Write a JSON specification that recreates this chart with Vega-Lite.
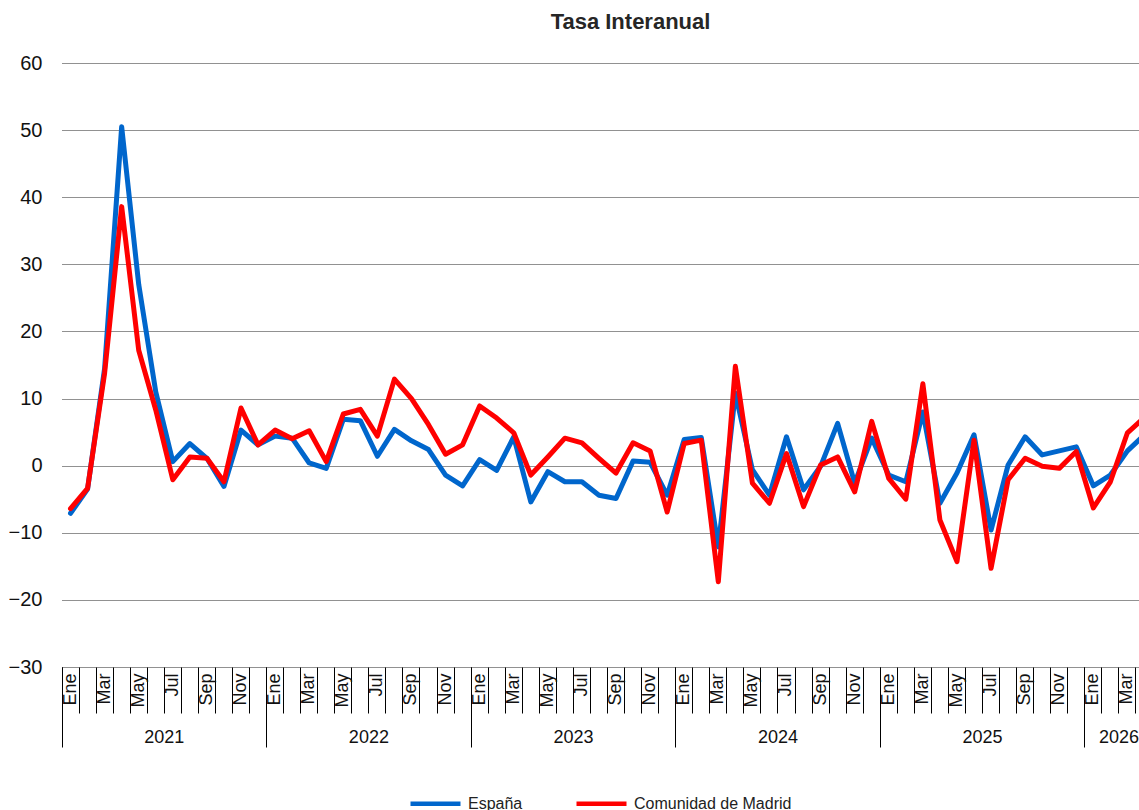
{
  "$schema": "https://vega.github.io/schema/vega-lite/v6.json",
  "width": 1091,
  "height": 604,
  "padding": {"left": 5, "top": 11, "right": 0, "bottom": 0},
  "autosize": {"type": "pad"},
  "background": "white",
  "title": {"text": "Tasa Interanual", "font": "Liberation Sans", "fontSize": 22, "fontWeight": "bold", "color": "#262626", "dx": 23, "offset": 19},
  "config": {"view": {"stroke": null}},
  "data": {"values": [
    {"mes": "2021-01", "España": -7.1, "Comunidad de Madrid": -6.4},
    {"mes": "2021-02", "España": -3.5, "Comunidad de Madrid": -3.4},
    {"mes": "2021-03", "España": 14.5, "Comunidad de Madrid": 13.8},
    {"mes": "2021-04", "España": 50.5, "Comunidad de Madrid": 38.6},
    {"mes": "2021-05", "España": 27.0, "Comunidad de Madrid": 17.2},
    {"mes": "2021-06", "España": 11.0, "Comunidad de Madrid": 8.3},
    {"mes": "2021-07", "España": 0.6, "Comunidad de Madrid": -2.1},
    {"mes": "2021-08", "España": 3.3, "Comunidad de Madrid": 1.3},
    {"mes": "2021-09", "España": 1.1, "Comunidad de Madrid": 1.1},
    {"mes": "2021-10", "España": -3.1, "Comunidad de Madrid": -2.4},
    {"mes": "2021-11", "España": 5.3, "Comunidad de Madrid": 8.6},
    {"mes": "2021-12", "España": 3.1, "Comunidad de Madrid": 3.1},
    {"mes": "2022-01", "España": 4.4, "Comunidad de Madrid": 5.3},
    {"mes": "2022-02", "España": 4.1, "Comunidad de Madrid": 4.0},
    {"mes": "2022-03", "España": 0.4, "Comunidad de Madrid": 5.2},
    {"mes": "2022-04", "España": -0.4, "Comunidad de Madrid": 0.6},
    {"mes": "2022-05", "España": 6.9, "Comunidad de Madrid": 7.7},
    {"mes": "2022-06", "España": 6.7, "Comunidad de Madrid": 8.4},
    {"mes": "2022-07", "España": 1.4, "Comunidad de Madrid": 4.4},
    {"mes": "2022-08", "España": 5.4, "Comunidad de Madrid": 12.9},
    {"mes": "2022-09", "España": 3.7, "Comunidad de Madrid": 10.0},
    {"mes": "2022-10", "España": 2.4, "Comunidad de Madrid": 6.1},
    {"mes": "2022-11", "España": -1.4, "Comunidad de Madrid": 1.7},
    {"mes": "2022-12", "España": -3.0, "Comunidad de Madrid": 3.1},
    {"mes": "2023-01", "España": 0.9, "Comunidad de Madrid": 8.9},
    {"mes": "2023-02", "España": -0.7, "Comunidad de Madrid": 7.1},
    {"mes": "2023-03", "España": 4.3, "Comunidad de Madrid": 4.9},
    {"mes": "2023-04", "España": -5.4, "Comunidad de Madrid": -1.4},
    {"mes": "2023-05", "España": -0.9, "Comunidad de Madrid": 1.3},
    {"mes": "2023-06", "España": -2.4, "Comunidad de Madrid": 4.1},
    {"mes": "2023-07", "España": -2.4, "Comunidad de Madrid": 3.4},
    {"mes": "2023-08", "España": -4.4, "Comunidad de Madrid": 1.1},
    {"mes": "2023-09", "España": -4.9, "Comunidad de Madrid": -1.1},
    {"mes": "2023-10", "España": 0.7, "Comunidad de Madrid": 3.4},
    {"mes": "2023-11", "España": 0.5, "Comunidad de Madrid": 2.2},
    {"mes": "2023-12", "España": -4.4, "Comunidad de Madrid": -6.9},
    {"mes": "2024-01", "España": 3.9, "Comunidad de Madrid": 3.3},
    {"mes": "2024-02", "España": 4.2, "Comunidad de Madrid": 3.8},
    {"mes": "2024-03", "España": -12.1, "Comunidad de Madrid": -17.3},
    {"mes": "2024-04", "España": 10.8, "Comunidad de Madrid": 14.8},
    {"mes": "2024-05", "España": -0.6, "Comunidad de Madrid": -2.6},
    {"mes": "2024-06", "España": -4.4, "Comunidad de Madrid": -5.6},
    {"mes": "2024-07", "España": 4.3, "Comunidad de Madrid": 1.8},
    {"mes": "2024-08", "España": -3.6, "Comunidad de Madrid": -6.1},
    {"mes": "2024-09", "España": -0.1, "Comunidad de Madrid": 0.1},
    {"mes": "2024-10", "España": 6.3, "Comunidad de Madrid": 1.3},
    {"mes": "2024-11", "España": -2.6, "Comunidad de Madrid": -3.9},
    {"mes": "2024-12", "España": 4.1, "Comunidad de Madrid": 6.6},
    {"mes": "2025-01", "España": -1.4, "Comunidad de Madrid": -1.9},
    {"mes": "2025-02", "España": -2.4, "Comunidad de Madrid": -5.0},
    {"mes": "2025-03", "España": 8.0, "Comunidad de Madrid": 12.2},
    {"mes": "2025-04", "España": -5.6, "Comunidad de Madrid": -8.1},
    {"mes": "2025-05", "España": -1.1, "Comunidad de Madrid": -14.3},
    {"mes": "2025-06", "España": 4.6, "Comunidad de Madrid": 3.8},
    {"mes": "2025-07", "España": -9.6, "Comunidad de Madrid": -15.3},
    {"mes": "2025-08", "España": 0.1, "Comunidad de Madrid": -2.1},
    {"mes": "2025-09", "España": 4.3, "Comunidad de Madrid": 1.1},
    {"mes": "2025-10", "España": 1.6, "Comunidad de Madrid": -0.1},
    {"mes": "2025-11", "España": 2.2, "Comunidad de Madrid": -0.4},
    {"mes": "2025-12", "España": 2.8, "Comunidad de Madrid": 2.1},
    {"mes": "2026-01", "España": -3.0, "Comunidad de Madrid": -6.3},
    {"mes": "2026-02", "España": -1.4, "Comunidad de Madrid": -2.4},
    {"mes": "2026-03", "España": 2.2, "Comunidad de Madrid": 4.9},
    {"mes": "2026-04", "España": 4.6, "Comunidad de Madrid": 7.2}
  ]},
  "transform": [{"fold": ["España", "Comunidad de Madrid"], "as": ["serie", "valor"]}],
  "layer": [
    {
      "mark": {"type": "line", "strokeWidth": 5, "strokeJoin": "round", "strokeCap": "round"},
      "encoding": {
        "x": {
          "field": "mes", "type": "ordinal",
          "scale": {"type": "band", "paddingInner": 0, "paddingOuter": 0},
          "axis": {
            "orient": "bottom", "bandPosition": 0, "domain": false, "grid": false,
            "ticks": true, "tickSize": 46, "tickColor": "#000", "tickWidth": 1,
            "labelAngle": 270, "labelOffset": 0, "labelPadding": -40,
            "labelFont": "Liberation Sans", "labelFontSize": 18, "labelColor": "#111",
            "labelOverlap": false,
            "labelExpr": "['Ene','','Mar','','May','','Jul','','Sep','','Nov',''][toNumber(slice(datum.value,5))-1]",
            "title": null
          }
        },
        "y": {
          "field": "valor", "type": "quantitative",
          "scale": {"domain": [-30, 60], "nice": false, "zero": false},
          "axis": {
            "values": [-30, -20, -10, 0, 10, 20, 30, 40, 50, 60],
            "grid": true, "gridColor": "#222", "gridDash": [1, 1], "gridWidth": 1,
            "domain": false, "ticks": false, "labelPadding": 20,
            "labelFont": "Liberation Sans", "labelFontSize": 20, "labelColor": "#111",
            "title": null, "minExtent": 57, "maxExtent": 57
          }
        },
        "color": {
          "field": "serie", "type": "nominal",
          "scale": {"domain": ["España", "Comunidad de Madrid"], "range": ["#0066CC", "#FF0000"]},
          "legend": {
            "orient": "none", "legendX": 346, "legendY": 713, "direction": "horizontal", "title": null,
            "symbolType": "stroke", "symbolSize": 2500, "symbolStrokeWidth": 4.5,
            "labelFont": "Liberation Sans", "labelFontSize": 16, "labelColor": "#222",
            "columnPadding": 44, "labelOffset": 5
          }
        }
      }
    },
    {
      "mark": {"type": "line", "strokeOpacity": 0},
      "encoding": {
        "x": {
          "field": "mes", "type": "ordinal",
          "scale": {"type": "band", "paddingInner": 0, "paddingOuter": 0},
          "axis": {
            "orient": "bottom", "bandPosition": 0, "domain": false, "grid": false,
            "values": ["2021-01", "2022-01", "2023-01", "2024-01", "2025-01", "2026-01"],
            "ticks": true, "tickSize": 80, "tickColor": "#000", "tickWidth": 1,
            "labelAngle": 0, "labelPadding": -19,
            "labelOffset": {"condition": {"test": "datum.value == '2026-01'", "value": 25.6}, "value": 93.8},
            "labelFont": "Liberation Sans", "labelFontSize": 18, "labelColor": "#111",
            "labelOverlap": false,
            "labelExpr": "slice(datum.value,0,4)",
            "title": null
          }
        },
        "y": {"field": "valor", "type": "quantitative"},
        "detail": {"field": "serie"}
      }
    }
  ],
  "resolve": {"axis": {"x": "independent"}}
}
